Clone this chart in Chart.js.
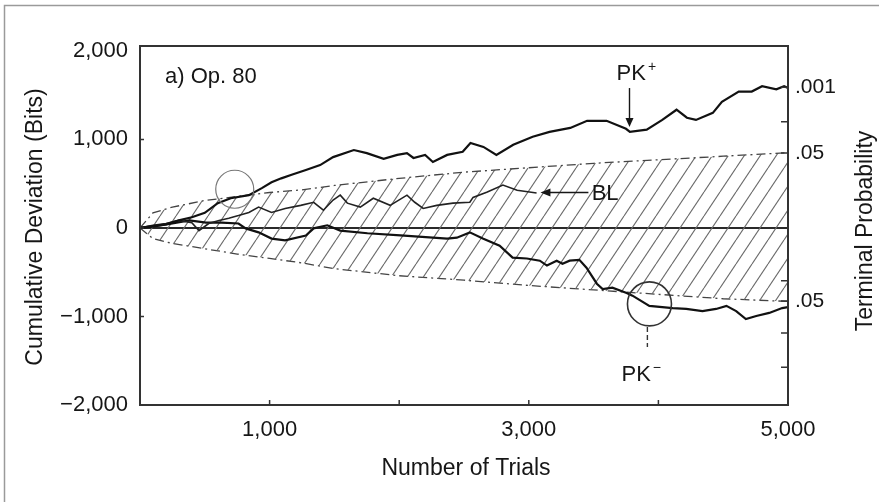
<!DOCTYPE html>
<html>
<head>
<meta charset="utf-8">
<title>Op. 80 - Cumulative Deviation</title>
<script src="https://cdn.jsdelivr.net/npm/chart.js@4.4.1/dist/chart.umd.min.js"></script>
<style>
  html, body { margin: 0; padding: 0; background: #fff; }
</style>
</head>
<body>
<canvas id="chart" width="879" height="502"></canvas>
<script>
// values (x = number of trials, y = cumulative deviation in bits)
const pkPlusTrials = [0, 100, 200, 300, 400, 500, 600, 700, 840, 940, 1015, 1090, 1170, 1280, 1390, 1490, 1650, 1750, 1880, 1985, 2060, 2110, 2200, 2260, 2370, 2490, 2550, 2650, 2750, 2880, 3030, 3160, 3320, 3450, 3600, 3750, 3780, 3910, 4030, 4140, 4220, 4290, 4420, 4490, 4620, 4720, 4800, 4910, 4970, 5000];
const pkPlusBits = [0, 20, 40, 85, 120, 170, 280, 335, 370, 450, 515, 560, 600, 655, 710, 800, 880, 845, 780, 825, 845, 790, 825, 745, 825, 860, 960, 915, 825, 940, 1030, 1085, 1130, 1210, 1210, 1120, 1085, 1110, 1220, 1335, 1245, 1220, 1300, 1425, 1540, 1540, 1600, 1565, 1600, 1580];

const blTrials = [0, 100, 200, 300, 400, 455, 530, 610, 685, 760, 840, 915, 1015, 1120, 1240, 1340, 1415, 1490, 1545, 1600, 1700, 1800, 1930, 2060, 2120, 2185, 2290, 2415, 2545, 2570, 2680, 2800, 2910, 3060];
const blBits = [0, 30, 50, 85, 60, -30, 50, 85, 110, 140, 175, 235, 175, 220, 255, 290, 200, 315, 370, 280, 235, 335, 255, 370, 290, 220, 255, 280, 290, 345, 405, 485, 425, 395];

const pkMinusTrials = [0, 120, 250, 380, 510, 630, 760, 815, 915, 1015, 1120, 1280, 1340, 1445, 1545, 1755, 2010, 2260, 2370, 2445, 2545, 2645, 2775, 2875, 2985, 3085, 3140, 3215, 3260, 3315, 3390, 3445, 3525, 3570, 3645, 3755, 3800, 3930, 4110, 4215, 4340, 4445, 4525, 4600, 4675, 4755, 4855, 4955, 5000];
const pkMinusBits = [0, 20, 50, 85, 60, 60, 50, -5, -50, -120, -140, -85, -5, 30, -30, -60, -85, -110, -120, -110, -50, -120, -200, -335, -345, -370, -425, -370, -405, -370, -360, -450, -630, -690, -675, -735, -765, -880, -905, -915, -940, -915, -880, -940, -1030, -995, -960, -905, -895];

// 0.05 terminal probability envelope
const envTrials = [0, 100, 250, 500, 750, 1000, 1250, 1500, 2000, 2500, 3000, 3500, 4000, 4500, 5000];
const envUpper = [0, 170, 235, 310, 355, 400, 430, 480, 560, 630, 680, 730, 770, 810, 850];
const envLower = [0, -120, -175, -235, -295, -345, -395, -460, -540, -590, -650, -700, -750, -800, -830];

// axes
const yTicks = [-2000, -1000, 0, 1000, 2000];
const yTickLabels = ['\u22122,000', '\u22121,000', '0', '1,000', '2,000'];
const xTicks = [0, 1000, 2000, 3000, 4000, 5000];
const xTickLabels = ['', '1,000', '', '3,000', '', '5,000'];
const probTicks = [1590, 1200, 847, -597, -824, -1188, -1574];
const probLabels = ['.001', '', '.05', '', '.05', '', ''];

const FONT = '"Liberation Sans", Arial, sans-serif';
const INK = '#161616';

const zip = (xs, ys) => xs.map((v, i) => ({ x: v, y: ys[i] }));

const canvas = document.getElementById('chart');
const ctx = canvas.getContext('2d');

// diagonal hatching for the chance region
function makeHatch() {
  const tile = document.createElement('canvas');
  tile.width = 16; tile.height = 24;
  const g = tile.getContext('2d');
  g.strokeStyle = '#6a6a6a';
  g.lineWidth = 1.1;
  for (const dx of [-16, 0, 16]) {
    g.beginPath();
    g.moveTo(dx, 24);
    g.lineTo(dx + 16, 0);
    g.stroke();
  }
  return ctx.createPattern(tile, 'repeat');
}

function arrowHead(c, x, y, dir) {
  // dir: 'down' or 'left'
  c.beginPath();
  if (dir === 'down') {
    c.moveTo(x, y); c.lineTo(x - 4, y - 9); c.lineTo(x + 4, y - 9);
  } else {
    c.moveTo(x, y); c.lineTo(x + 10, y - 4); c.lineTo(x + 10, y + 4);
  }
  c.closePath();
  c.fill();
}

function superLabel(c, txt, sup, x, y) {
  c.font = '22px ' + FONT;
  c.textAlign = 'left';
  c.textBaseline = 'alphabetic';
  c.fillText(txt, x, y);
  const w = c.measureText(txt).width;
  c.font = '14px ' + FONT;
  c.fillText(sup, x + w + 2, y - 9);
}

// frame, inward ticks, annotations and titles
const figureDecor = {
  id: 'figureDecor',
  afterDatasetsDraw(chart) {
    const c = chart.ctx;
    const a = chart.chartArea;
    const x = chart.scales.x, y = chart.scales.y;
    c.save();
    c.strokeStyle = '#333';
    c.lineWidth = 2;
    c.strokeRect(a.left, a.top, a.right - a.left, a.bottom - a.top);

    c.lineWidth = 1.5;
    c.beginPath();
    xTicks.slice(1, -1).forEach(v => {
      const px = x.getPixelForValue(v);
      c.moveTo(px, a.bottom); c.lineTo(px, a.bottom - 5);
    });
    yTicks.slice(1, -1).forEach(v => {
      const py = y.getPixelForValue(v);
      c.moveTo(a.left, py); c.lineTo(a.left + 4, py);
    });
    probTicks.forEach(v => {
      const py = y.getPixelForValue(v);
      c.moveTo(a.right, py); c.lineTo(a.right - 7, py);
    });
    c.stroke();

    // circled spots
    c.strokeStyle = '#777';
    c.lineWidth = 1.2;
    c.beginPath();
    c.arc(x.getPixelForValue(731), y.getPixelForValue(437), 19, 0, Math.PI * 2);
    c.stroke();
    c.strokeStyle = '#333';
    c.lineWidth = 1.6;
    c.beginPath();
    c.arc(x.getPixelForValue(3931), y.getPixelForValue(-858), 22, 0, Math.PI * 2);
    c.stroke();

    // leader from PK- circle
    c.setLineDash([5, 3]);
    c.lineWidth = 1.4;
    c.beginPath();
    c.moveTo(x.getPixelForValue(3915), y.getPixelForValue(-1120));
    c.lineTo(x.getPixelForValue(3915), y.getPixelForValue(-1345));
    c.stroke();
    c.setLineDash([]);

    // PK+ arrow
    c.fillStyle = INK;
    c.strokeStyle = INK;
    c.lineWidth = 1.4;
    const ax = x.getPixelForValue(3777);
    const ay0 = y.getPixelForValue(1580), ay1 = y.getPixelForValue(1140);
    c.beginPath(); c.moveTo(ax, ay0); c.lineTo(ax, ay1 - 6); c.stroke();
    arrowHead(c, ax, ay1, 'down');

    // BL arrow
    const by = y.getPixelForValue(400);
    const bx0 = x.getPixelForValue(3460), bx1 = x.getPixelForValue(3090);
    c.beginPath(); c.moveTo(bx0, by); c.lineTo(bx1 + 6, by); c.stroke();
    arrowHead(c, bx1, by, 'left');

    // labels
    superLabel(c, 'PK', '+', x.getPixelForValue(3677), y.getPixelForValue(1676));
    superLabel(c, 'PK', '\u2212', x.getPixelForValue(3715), y.getPixelForValue(-1733));
    c.font = '22px ' + FONT;
    c.fillText('BL', x.getPixelForValue(3485), y.getPixelForValue(310));
    c.fillText('a) Op. 80', a.left + 25, a.top + 37);
    c.restore();
  },
  afterDraw(chart) {
    const c = chart.ctx;
    c.save();
    // page frame
    c.strokeStyle = '#9a9a9a';
    c.lineWidth = 1.5;
    c.beginPath();
    c.moveTo(4.5, 502); c.lineTo(4.5, 5.5); c.lineTo(879, 5.5);
    c.stroke();

    c.fillStyle = INK;
    c.font = '23px ' + FONT;
    c.textAlign = 'center';
    c.textBaseline = 'alphabetic';
    c.fillText('Number of Trials', 466, 475);

    c.translate(42, 227);
    c.rotate(-Math.PI / 2);
    c.fillText('Cumulative Deviation (Bits)', 0, 0);
    c.restore();

    c.save();
    c.fillStyle = INK;
    c.font = '23px ' + FONT;
    c.textAlign = 'center';
    c.textBaseline = 'alphabetic';
    c.translate(872, 231);
    c.rotate(-Math.PI / 2);
    c.fillText('Terminal Probability', 0, 0);
    c.restore();
  }
};

const lineBase = { pointRadius: 0, tension: 0, fill: false };
const envStyle = { borderColor: '#444', borderWidth: 1.3, borderDash: [9, 4, 2, 4] };

new Chart(canvas, {
  type: 'line',
  data: {
    datasets: [
      Object.assign({}, lineBase, { label: 'PK+', data: zip(pkPlusTrials, pkPlusBits), borderColor: '#111', borderWidth: 2.2 }),
      Object.assign({}, lineBase, { label: 'BL', data: zip(blTrials, blBits), borderColor: '#222', borderWidth: 1.6 }),
      Object.assign({}, lineBase, { label: 'PK-', data: zip(pkMinusTrials, pkMinusBits), borderColor: '#111', borderWidth: 2.2 }),
      Object.assign({}, lineBase, envStyle, { label: '.05 upper', data: zip(envTrials, envUpper), fill: '+1', backgroundColor: makeHatch() }),
      Object.assign({}, lineBase, envStyle, { label: '.05 lower', data: zip(envTrials, envLower) })
    ]
  },
  options: {
    responsive: false,
    animation: false,
    events: [],
    layout: { padding: { top: 46, left: 0, right: 0, bottom: 0 } },
    plugins: { legend: { display: false }, tooltip: { enabled: false } },
    scales: {
      x: {
        type: 'linear',
        min: 0, max: 5000,
        afterBuildTicks: s => { s.ticks = xTicks.map(v => ({ value: v })); },
        afterFit: s => { s.height = 97; },
        grid: { display: false, drawTicks: false },
        border: { display: false },
        ticks: {
          autoSkip: false, maxRotation: 0, padding: 12,
          color: INK, font: { family: FONT, size: 22 },
          callback: (v, i) => xTickLabels[i]
        }
      },
      y: {
        type: 'linear',
        position: 'left',
        min: -2000, max: 2055,
        afterBuildTicks: s => { s.ticks = yTicks.map(v => ({ value: v })); },
        afterFit: s => { s.width = 140; },
        grid: {
          drawTicks: false,
          lineWidth: 2,
          color: c => (c.tick && c.tick.value === 0) ? '#2a2a2a' : 'rgba(0,0,0,0)'
        },
        border: { display: false },
        ticks: {
          autoSkip: false, padding: 12,
          color: INK, font: { family: FONT, size: 22 },
          callback: (v, i) => yTickLabels[i]
        }
      },
      prob: {
        type: 'linear',
        position: 'right',
        min: -2000, max: 2055,
        afterBuildTicks: s => { s.ticks = probTicks.map(v => ({ value: v })); },
        afterFit: s => { s.width = 91; },
        grid: { display: false, drawTicks: false },
        border: { display: false },
        ticks: {
          autoSkip: false, padding: 7,
          color: INK, font: { family: FONT, size: 21 },
          callback: (v, i) => probLabels[i]
        }
      }
    }
  },
  plugins: [figureDecor]
});
</script>
</body>
</html>
